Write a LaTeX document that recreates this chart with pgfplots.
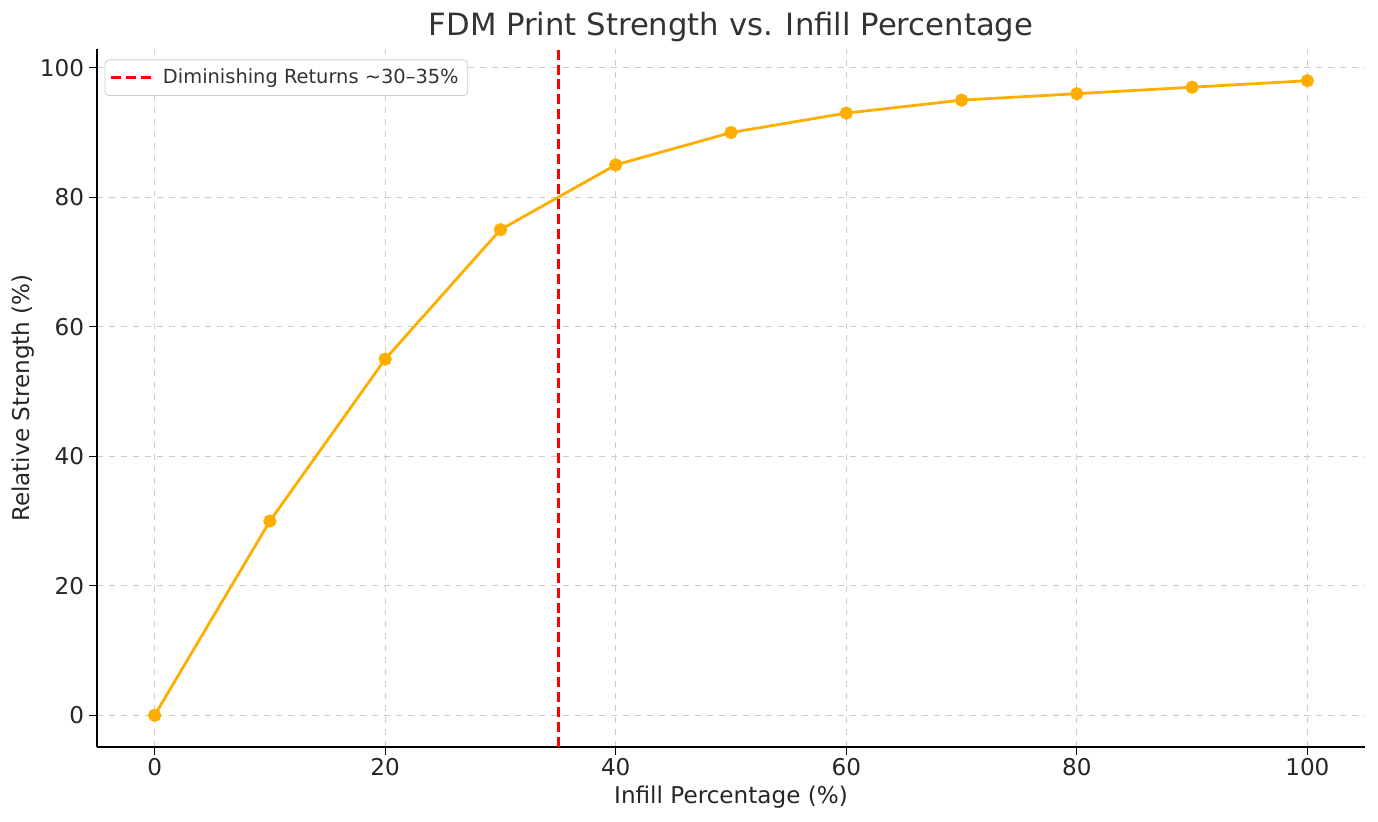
\documentclass[border=0pt]{standalone}
\usepackage{pgfplots}
\pgfplotsset{compat=1.18}
\usepackage{fontspec}
\setmainfont{DejaVu Sans}
\definecolor{lineorange}{HTML}{FFAE00}
\definecolor{txt}{HTML}{333333}
\definecolor{gridgray}{HTML}{CCCCCC}

\begin{document}
\begin{tikzpicture}
\useasboundingbox (-48.5bp,-37.5bp) rectangle (640.5bp,373.5bp);
\begin{axis}[
    scale only axis,
    width=634bp, height=349bp,
    xmin=-5, xmax=105, ymin=-4.9, ymax=102.9,
    axis x line*=bottom, axis y line*=left,
    axis line style={black, line width=0.8pt, -},
    xtick={0,20,...,100}, ytick={0,20,...,100},
    tick align=outside, tick pos=left,
    major tick length=4pt,
    tick style={black, line width=0.6pt},
    grid=major,
    major grid style={gridgray, dashed, line width=0.5pt},
    ticklabel style={font=\fontsize{11.6}{12}\selectfont, text=black!85},
    xticklabel style={yshift=2pt},
    yticklabel style={xshift=1pt},
    /pgf/number format/assume math mode=true,
    title={FDM Print Strength vs. Infill Percentage},
    every axis title shift=0pt,
    title style={font=\fontsize{15.4}{16}\selectfont, text=txt, at={(axis description cs:0.5,1.0315)}, anchor=center},
    xlabel={Infill Percentage (\%)},
    ylabel={Relative Strength (\%)},
    xlabel style={at={(axis description cs:0.5,-0.072)}, anchor=center},
    ylabel style={at={(axis description cs:-0.058,0.5)}, anchor=center},
    label style={font=\fontsize{11.6}{12}\selectfont, text=black!85},
    legend style={font=\fontsize{9.75}{10}\selectfont, text=txt, draw=gridgray, rounded corners=2pt, at={(0.006,0.985)}, anchor=north west, inner sep=2.5pt},
    legend cell align=left,
    legend image code/.code={\draw[#1] (0pt,0pt) -- (20pt,0pt);},
]
\addplot[lineorange, line width=1.4pt, mark=*, mark size=2.6pt, mark options={solid, fill=lineorange, draw=lineorange}, forget plot] coordinates {
(0,0) (10,30) (20,55) (30,75) (40,85) (50,90) (60,93) (70,95) (80,96) (90,97) (100,98)
};
\addplot[red, line width=1.5pt, dashed, dash pattern=on 5pt off 2.5pt] coordinates {(35,-4.9) (35,102.9)};
\addlegendentry{\ Diminishing Returns \textasciitilde30–35\%}
\end{axis}
\end{tikzpicture}
\end{document}
